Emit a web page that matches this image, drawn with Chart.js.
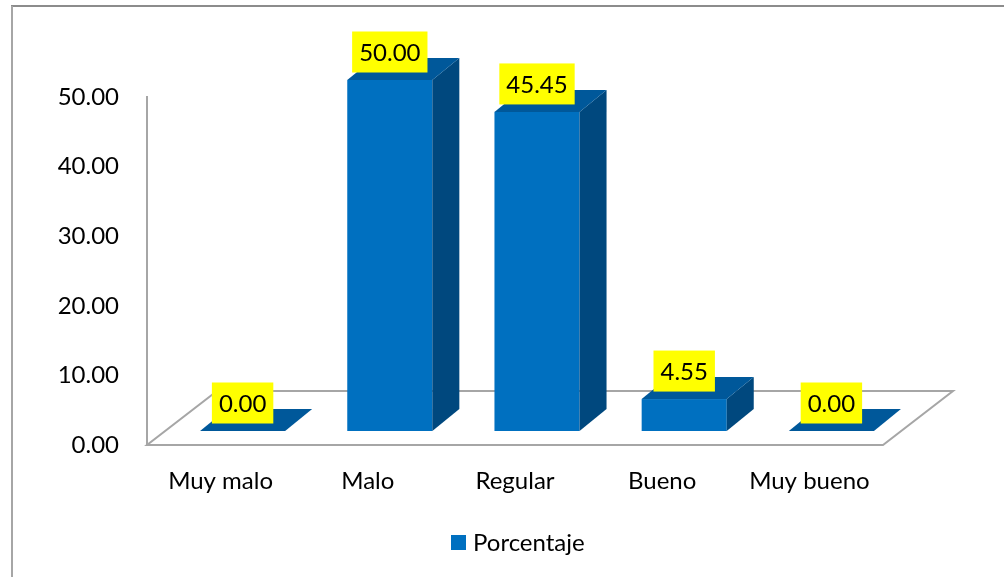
<!DOCTYPE html>
<html>
<head>
<meta charset="utf-8">
<script src="https://cdn.jsdelivr.net/npm/chart.js@4.4.1/dist/chart.umd.min.js"></script>
<style>
  html, body { margin: 0; padding: 0; background: #ffffff; }
  #wrap { width: 1004px; height: 577px; position: relative; }
</style>
</head>
<body>
<div id="wrap"><canvas id="c" width="1004" height="577"></canvas></div>
<script>
const categories = ['Muy malo', 'Malo', 'Regular', 'Bueno', 'Muy bueno'];
const values = [0.00, 50.00, 45.45, 4.55, 0.00];
const yTickValues = [0, 10, 20, 30, 40, 50];
const seriesName = 'Porcentaje';

const FONT = 'Lato, "Open Sans", sans-serif';
const FSIZE = 24;
const FRONT = '#0070C0';
const TOP = '#00589A';
const SIDE = '#00487E';
const LINE = '#A6A6A6';

const floorDepth = { x: 70, y: -54 };
const barDepth = { x: 27, y: -22 };
const barShift = { x: 22, y: -14 };
const heightRatio = 351 / 348;

const bars3d = {
  id: 'bars3d',
  beforeDraw(chart) {
    const ctx = chart.ctx;
    ctx.save();
    ctx.fillStyle = '#ffffff';
    ctx.fillRect(0, 0, chart.width, chart.height);
    ctx.strokeStyle = '#8C8C8C';
    ctx.lineWidth = 2;
    ctx.beginPath();
    ctx.moveTo(11, 6); ctx.lineTo(chart.width, 6);
    ctx.stroke();
    ctx.strokeStyle = '#A6A6A6';
    ctx.beginPath();
    ctx.moveTo(12, 6); ctx.lineTo(12, chart.height);
    ctx.stroke();
    ctx.restore();
  },
  beforeDatasetsDraw(chart) {
    const ctx = chart.ctx;
    const { left, right, bottom } = chart.chartArea;
    ctx.save();
    // floor
    ctx.strokeStyle = LINE;
    ctx.lineWidth = 2;
    ctx.beginPath();
    ctx.moveTo(left, bottom);
    ctx.lineTo(right, bottom);
    ctx.lineTo(right + floorDepth.x, bottom + floorDepth.y);
    ctx.lineTo(left + floorDepth.x, bottom + floorDepth.y);
    ctx.closePath();
    ctx.stroke();

    const meta = chart.getDatasetMeta(0);
    const ds = chart.data.datasets[0];
    const tops = [];
    meta.data.forEach((el, i) => {
      const w = el.width;
      const cx = el.x + barShift.x;
      const base = el.base + barShift.y;
      const h = (el.base - el.y) * heightRatio;
      const x0 = cx - w / 2, x1 = cx + w / 2, yt = base - h;
      ctx.fillStyle = FRONT;
      ctx.fillRect(x0, yt, w, h);
      ctx.fillStyle = SIDE;
      ctx.beginPath();
      ctx.moveTo(x1, yt);
      ctx.lineTo(x1 + barDepth.x, yt + barDepth.y);
      ctx.lineTo(x1 + barDepth.x, base + barDepth.y);
      ctx.lineTo(x1, base);
      ctx.closePath();
      ctx.fill();
      ctx.fillStyle = TOP;
      ctx.beginPath();
      ctx.moveTo(x0, yt);
      ctx.lineTo(x1, yt);
      ctx.lineTo(x1 + barDepth.x, yt + barDepth.y);
      ctx.lineTo(x0 + barDepth.x, yt + barDepth.y);
      ctx.closePath();
      ctx.fill();
      tops.push({ cx, yt, v: ds.data[i] });
    });

    // data labels
    ctx.font = FSIZE + 'px ' + FONT;
    ctx.textAlign = 'center';
    ctx.textBaseline = 'middle';
    tops.forEach(t => {
      const txt = t.v.toFixed(2);
      const tw = ctx.measureText(txt).width;
      const bw = tw + 14, bh = 41;
      const cy = t.yt - 28;
      ctx.fillStyle = '#FFFF00';
      ctx.fillRect(t.cx - bw / 2, cy - bh / 2, bw, bh);
      ctx.fillStyle = '#000000';
      ctx.fillText(txt, t.cx, cy + 1);
    });
    ctx.restore();
    return false;
  },
  afterDraw(chart) {
    // legend
    const ctx = chart.ctx;
    const ds = chart.data.datasets[0];
    ctx.save();
    ctx.fillStyle = ds.backgroundColor;
    ctx.fillRect(451, 535, 15, 15);
    ctx.fillStyle = '#000000';
    ctx.font = FSIZE + 'px ' + FONT;
    ctx.textAlign = 'left';
    ctx.textBaseline = 'middle';
    ctx.fillText(ds.label, 473, 543);
    ctx.restore();
  }
};

new Chart(document.getElementById('c'), {
  type: 'bar',
  data: {
    labels: categories,
    datasets: [{
      label: seriesName,
      data: values,
      backgroundColor: FRONT,
      categoryPercentage: 1.0,
      barPercentage: 0.578
    }]
  },
  options: {
    responsive: false,
    animation: false,
    devicePixelRatio: 1,
    layout: { padding: { left: 12, right: 121, top: 97, bottom: 56 } },
    plugins: {
      tooltip: { enabled: false },
      legend: { display: false }
    },
    scales: {
      x: {
        grid: { display: false },
        border: { display: false },
        ticks: {
          color: '#000000',
          padding: 14,
          maxRotation: 0,
          font: { family: FONT, size: FSIZE }
        },
        afterFit(scale) { scale.height = 76; }
      },
      y: {
        min: 0,
        max: 50,
        afterBuildTicks(scale) { scale.ticks = yTickValues.map(v => ({ value: v })); },
        grid: { display: false },
        border: { display: true, color: LINE, width: 2 },
        ticks: {
          color: '#000000',
          padding: 20,
          font: { family: FONT, size: FSIZE },
          callback: v => Number(v).toFixed(2)
        },
        afterFit(scale) { scale.width = 135; }
      }
    }
  },
  plugins: [bars3d]
});
</script>
</body>
</html>
